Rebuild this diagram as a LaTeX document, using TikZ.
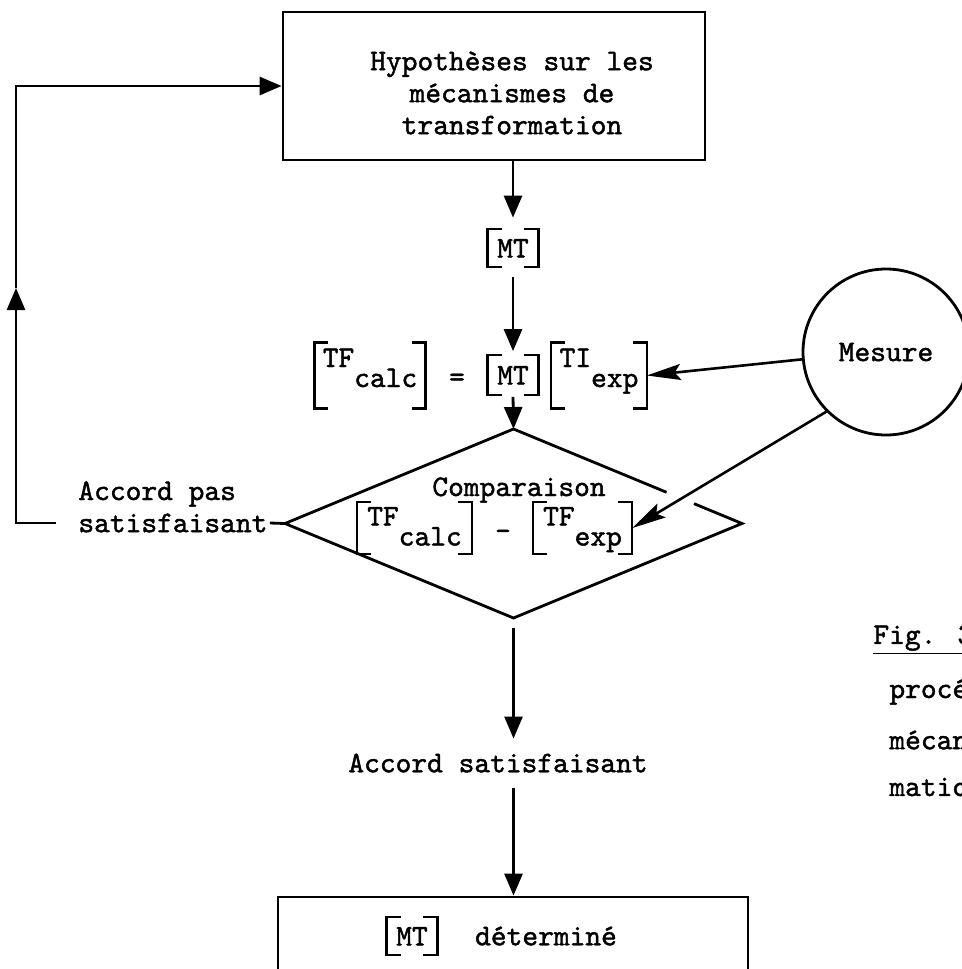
\documentclass[tikz,border=0pt]{standalone}
\usepackage{fontspec}
\usepackage{tikz}
\usetikzlibrary{positioning,shapes.geometric,arrows.meta,calc}

\newfontfamily\typefam{lmmono10-regular.otf}[FakeBold=1.4]
\newcommand{\typew}{\fontsize{15}{16}\selectfont\typefam}
\newcommand{\sqbr}[1]{%
  \draw[brline] ([xshift=7pt]#1.north west) -- (#1.north west) -- (#1.south west) -- ([xshift=7pt]#1.south west);
  \draw[brline] ([xshift=-7pt]#1.north east) -- (#1.north east) -- (#1.south east) -- ([xshift=-7pt]#1.south east);}

\tikzset{
  every node/.style={font=\typew},
  line/.style={line width=1.4pt},
  flow/.style={line, -{Triangle[length=11pt,width=9pt]}},
  thin flow/.style={line width=1.3pt, -{Stealth[length=17pt,width=8pt,inset=3pt]}},
  brline/.style={line width=1.2pt},
  mtbox/.style={inner xsep=4.6pt, inner ysep=4.5pt, text height=9.5pt, text depth=0pt},
  eqbox/.style={inner xsep=4pt, inner ysep=2.5pt, text height=9.5pt, text depth=18pt},
  tfbox/.style={inner xsep=5pt, inner ysep=1pt, text height=10.5pt, text depth=13pt},
  label/.style={inner sep=1pt, anchor=west}
}

\begin{document}
\begin{tikzpicture}[x=0.5pt, y=-0.5pt]
    \useasboundingbox (0,0) rectangle (962,969);
    \clip (0,0) rectangle (962,969);

    \node[draw, line, minimum width=211pt, minimum height=74pt] (hypo) at (494,86) {};
    \node[align=center] (hypotxt) at (512,93) {Hypothèses sur les\\mécanismes de\\transformation};
    \node[mtbox] (mt1) at (513,248) {MT};
    \sqbr{mt1}

    \node[eqbox] (eqtf) at (370,375.5) {TF\raisebox{-10pt}{calc}};
    \sqbr{eqtf}
    \node (eqeq) at (457,380) {=};
    \node[mtbox, inner ysep=5pt] (eqmt) at (513,375) {MT};
    \sqbr{eqmt}
    \node[eqbox] (eqti) at (599,375.5) {TI\raisebox{-10pt}{exp}};
    \sqbr{eqti}

    \node[draw, line, circle, minimum size=83pt, inner sep=0pt] (mesure) at (886,352) {Mesure};

    \node[diamond, minimum width=228.5pt, minimum height=94.5pt, inner sep=0pt, outer sep=0pt] (comp) at (513.5,523.5) {};
    \node (comptxt) at (519,490) {Comparaison};
    \node[tfbox] (diffc) at (414.5,528) {TF\raisebox{-10pt}{calc}};
    \sqbr{diffc}
    \node (diffm) at (503,535) {-};
    \node[tfbox] (diffe) at (582.5,528) {TF\raisebox{-10pt}{exp}};
    \sqbr{diffe}

    \node[label] (accordno1) at (76,494) {Accord pas};
    \node[label] (accordno2) at (76,523) {satisfaisant};

    \node (accordok) at (498,763) {Accord satisfaisant};

    \node[draw, line, minimum width=235pt, minimum height=56.5pt] (final) at (513,953.5) {};
    \node[mtbox] (mtfin) at (412,936) {MT};
    \sqbr{mtfin}
    \node (det) at (546,936) {déterminé};

    \node[label, inner sep=0pt] (figcap) at (873,640) {\underline{Fig. 3}};
    \node[label, inner sep=0pt] (figl1) at (889,692) {procé};
    \node[label, inner sep=0pt] (figl2) at (889,740) {mécan};
    \node[label, inner sep=0pt] (figl3) at (889,787) {matio};

    \draw[flow, shorten >=5.75pt] (hypo.south -| mt1.north) -- (mt1.north);
    \draw[flow, shorten <=5pt, shorten >=2pt] (mt1.south) -- (eqmt.north);
    \draw[flow, shorten <=1pt] (eqmt.south) -- (comp.north);

    \draw[line] ($(comp.north)!.79!(comp.east)$) -- (comp.east) -- (comp.south) -- (comp.west) -- (comp.north) -- ($(comp.north)!.67!(comp.east)$);

    \draw[thin flow] (mesure.185) -- (eqti.east);
    \draw[thin flow] (mesure.225) -- (diffe.east);

    \coordinate (backmid) at (16,288);
    \draw[line] (comp.west) -- (accordno2.east);
    \draw[flow, shorten <=10pt] (accordno2.west) -| (backmid);
    \draw[flow] (backmid) |- (hypo.west);

    \draw[flow, shorten <=5pt, shorten >=4pt] (comp.south) -- (comp.south |- accordok.north);
    \draw[flow, shorten <=4pt] (comp.south |- accordok.south) -- (comp.south |- final.north);
\end{tikzpicture}
\end{document}
